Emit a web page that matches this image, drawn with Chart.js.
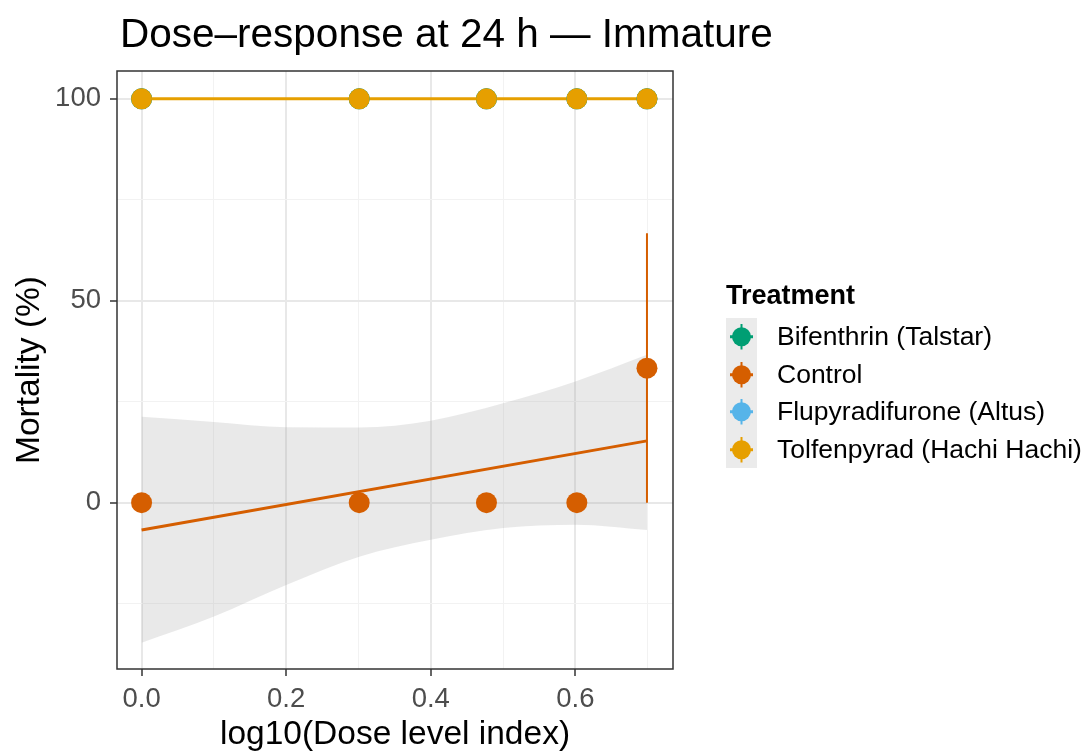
<!DOCTYPE html>
<html>
<head>
<meta charset="utf-8">
<script src="https://cdn.jsdelivr.net/npm/chart.js@4.4.1/dist/chart.umd.min.js"></script>
<style>
  body { margin: 0; background: #fff; font-family: "Liberation Sans", Arial, sans-serif; }
  #wrap { position: relative; width: 1088px; height: 755px; overflow: hidden; }
  #chart { position: absolute; left: 0; top: 0; }
  #title { position: absolute; left: 120px; top: 13px; font-size: 40.5px; line-height: 41px; white-space: nowrap; color: #000; }
  #legend { position: absolute; left: 726px; top: 280px; }
  #legend .lt { font-size: 27px; font-weight: bold; line-height: 30px; height: 38px; }
  #legend .row { display: flex; align-items: center; height: 37.5px; }
  #legend .key { width: 31px; height: 37.5px; background: #ebebeb; }
  #legend .lab { font-size: 26.5px; margin-left: 20px; color: #000; white-space: nowrap; }
</style>
</head>
<body>
<div id="wrap">
  <canvas id="chart" width="1088" height="755"></canvas>
  <div id="title">Dose–response at 24 h — Immature</div>
  <div id="legend"></div>
</div>
<script>
// Data
const doseX = [0, 0.301, 0.477, 0.602, 0.699];
const treatments = ['Bifenthrin (Talstar)', 'Control', 'Flupyradifurone (Altus)', 'Tolfenpyrad (Hachi Hachi)'];
const colors = ['#009E73', '#D55E00', '#56B4E9', '#E69F00'];
const bifenthrin = [100, 100, 100, 100, 100];
const control = [0, 0, 0, 0, 33.3];
const flupyradifurone = [100, 100, 100, 100, 100];
const tolfenpyrad = [100, 100, 100, 100, 100];

// error bar on the last control dose
const errX = [0.699, 0.699];
const errY = [0, 66.7];

// linear fits + confidence band (control)
const fitX = [0, 0.699];
const controlFit = [-6.8, 15.3];
const tolfenFit = [100, 100];
const bandX = [0, 0.1, 0.2, 0.301, 0.4, 0.5, 0.6, 0.699];
const bandUpper = [21.3, 20.0, 18.7, 18.6, 20.3, 24.6, 30.0, 36.6];
const bandLower = [-34.7, -28.2, -20.4, -13.4, -9.2, -6.3, -5.5, -6.8];

// axes
const xTicks = [0, 0.1, 0.2, 0.3, 0.4, 0.5, 0.6, 0.7];
const xMajor = [0, 0.2, 0.4, 0.6];
const yTicks = [-25, 0, 25, 50, 75, 100];
const yMajor = [0, 50, 100];
const xRange = [-0.034, 0.735];
const yRange = [-41.2, 106.9];

const pts = (xs, ys) => xs.map((x, i) => ({ x, y: ys[i] }));
const isMajor = (list, v) => list.some(m => Math.abs(m - v) < 1e-9);

function pointSet(label, ys, color, order) {
  return {
    label, data: pts(doseX, ys), showLine: false, order,
    pointRadius: 10.5, pointHoverRadius: 10.5,
    backgroundColor: color, borderWidth: 0
  };
}
function lineSet(label, xs, ys, color, width, order) {
  return {
    label, data: pts(xs, ys), showLine: true, order,
    borderColor: color, borderWidth: width, pointRadius: 0, fill: false
  };
}

const datasets = [
  pointSet(treatments[3], tolfenpyrad, colors[3], 0),
  pointSet(treatments[1], control, colors[1], 1),
  pointSet(treatments[0], bifenthrin, colors[0], 2),
  pointSet(treatments[2], flupyradifurone, colors[2], 3),
  lineSet('err', errX, errY, colors[1], 2, 4),
  lineSet('fitT', fitX, tolfenFit, colors[3], 3, 5),
  lineSet('fitC', fitX, controlFit, colors[1], 3, 6),
  {
    label: 'bandU', data: pts(bandX, bandUpper), showLine: true, order: 7,
    borderWidth: 0, pointRadius: 0, tension: 0.4, cubicInterpolationMode: 'monotone',
    fill: '+1', backgroundColor: 'rgba(153,153,153,0.22)'
  },
  {
    label: 'bandL', data: pts(bandX, bandLower), showLine: true, order: 8,
    borderWidth: 0, pointRadius: 0, tension: 0.4, cubicInterpolationMode: 'monotone',
    fill: false
  }
];

const panelBorder = {
  id: 'panelBorder',
  afterDatasetsDraw(chart) {
    const a = chart.chartArea, c = chart.ctx;
    c.save();
    c.strokeStyle = '#333';
    c.lineWidth = 1.5;
    c.strokeRect(a.left, a.top, a.right - a.left, a.bottom - a.top);
    c.restore();
  }
};

const tickFont = { family: '"Liberation Sans", Arial, sans-serif', size: 27.5 };
const titleFont = { family: '"Liberation Sans", Arial, sans-serif', size: 33.5 };

new Chart(document.getElementById('chart'), {
  type: 'scatter',
  data: { datasets },
  plugins: [panelBorder],
  options: {
    responsive: false,
    animation: false,
    devicePixelRatio: 1,
    layout: { padding: { left: 0, top: 71, right: 415, bottom: 0 } },
    plugins: { legend: { display: false }, tooltip: { enabled: false } },
    scales: {
      x: {
        type: 'linear', min: xRange[0], max: xRange[1],
        afterBuildTicks: s => { s.ticks = xTicks.map(v => ({ value: v })); },
        afterFit: s => { s.height = 86; },
        ticks: {
          autoSkip: false, maxRotation: 0, padding: 7, color: '#4d4d4d', font: tickFont,
          callback: v => isMajor(xMajor, v) ? v.toFixed(1) : ''
        },
        grid: {
          color: c => isMajor(xMajor, c.tick.value) ? '#e8e8e8' : '#f2f2f2',
          lineWidth: c => isMajor(xMajor, c.tick.value) ? 2 : 1,
          tickColor: c => isMajor(xMajor, c.tick.value) ? '#333' : 'rgba(0,0,0,0)',
          tickLength: 7, tickWidth: 1.5
        },
        border: { display: false },
        title: { display: true, text: 'log10(Dose level index)', color: '#000', font: titleFont, padding: { top: 0, bottom: 0 } }
      },
      y: {
        type: 'linear', min: yRange[0], max: yRange[1],
        afterBuildTicks: s => { s.ticks = yTicks.map(v => ({ value: v })); },
        afterFit: s => { s.width = 117; },
        ticks: {
          autoSkip: false, padding: 9, color: '#4d4d4d', font: tickFont,
          callback: v => isMajor(yMajor, v) ? String(v) : ''
        },
        grid: {
          color: c => isMajor(yMajor, c.tick.value) ? '#e8e8e8' : '#f2f2f2',
          lineWidth: c => isMajor(yMajor, c.tick.value) ? 2 : 1,
          tickColor: c => isMajor(yMajor, c.tick.value) ? '#333' : 'rgba(0,0,0,0)',
          tickLength: 7, tickWidth: 1.5
        },
        border: { display: false },
        title: { display: true, text: 'Mortality (%)', color: '#000', font: titleFont, padding: { top: 10, bottom: 0 } }
      }
    }
  }
});

// HTML legend (ggplot style keys: point + line on grey)
const legend = document.getElementById('legend');
let html = '<div class="lt">Treatment</div>';
treatments.forEach((name, i) => {
  const col = colors[i];
  html += '<div class="row"><div class="key"><svg width="31" height="37.5">' +
    `<line x1="4" y1="18.75" x2="27" y2="18.75" stroke="${col}" stroke-width="3"/>` +
    `<line x1="15.5" y1="6" x2="15.5" y2="31.5" stroke="${col}" stroke-width="2"/>` +
    `<circle cx="15.5" cy="18.75" r="9.5" fill="${col}"/>` +
    `</svg></div><div class="lab">${name}</div></div>`;
});
legend.innerHTML = html;
</script>
</body>
</html>
